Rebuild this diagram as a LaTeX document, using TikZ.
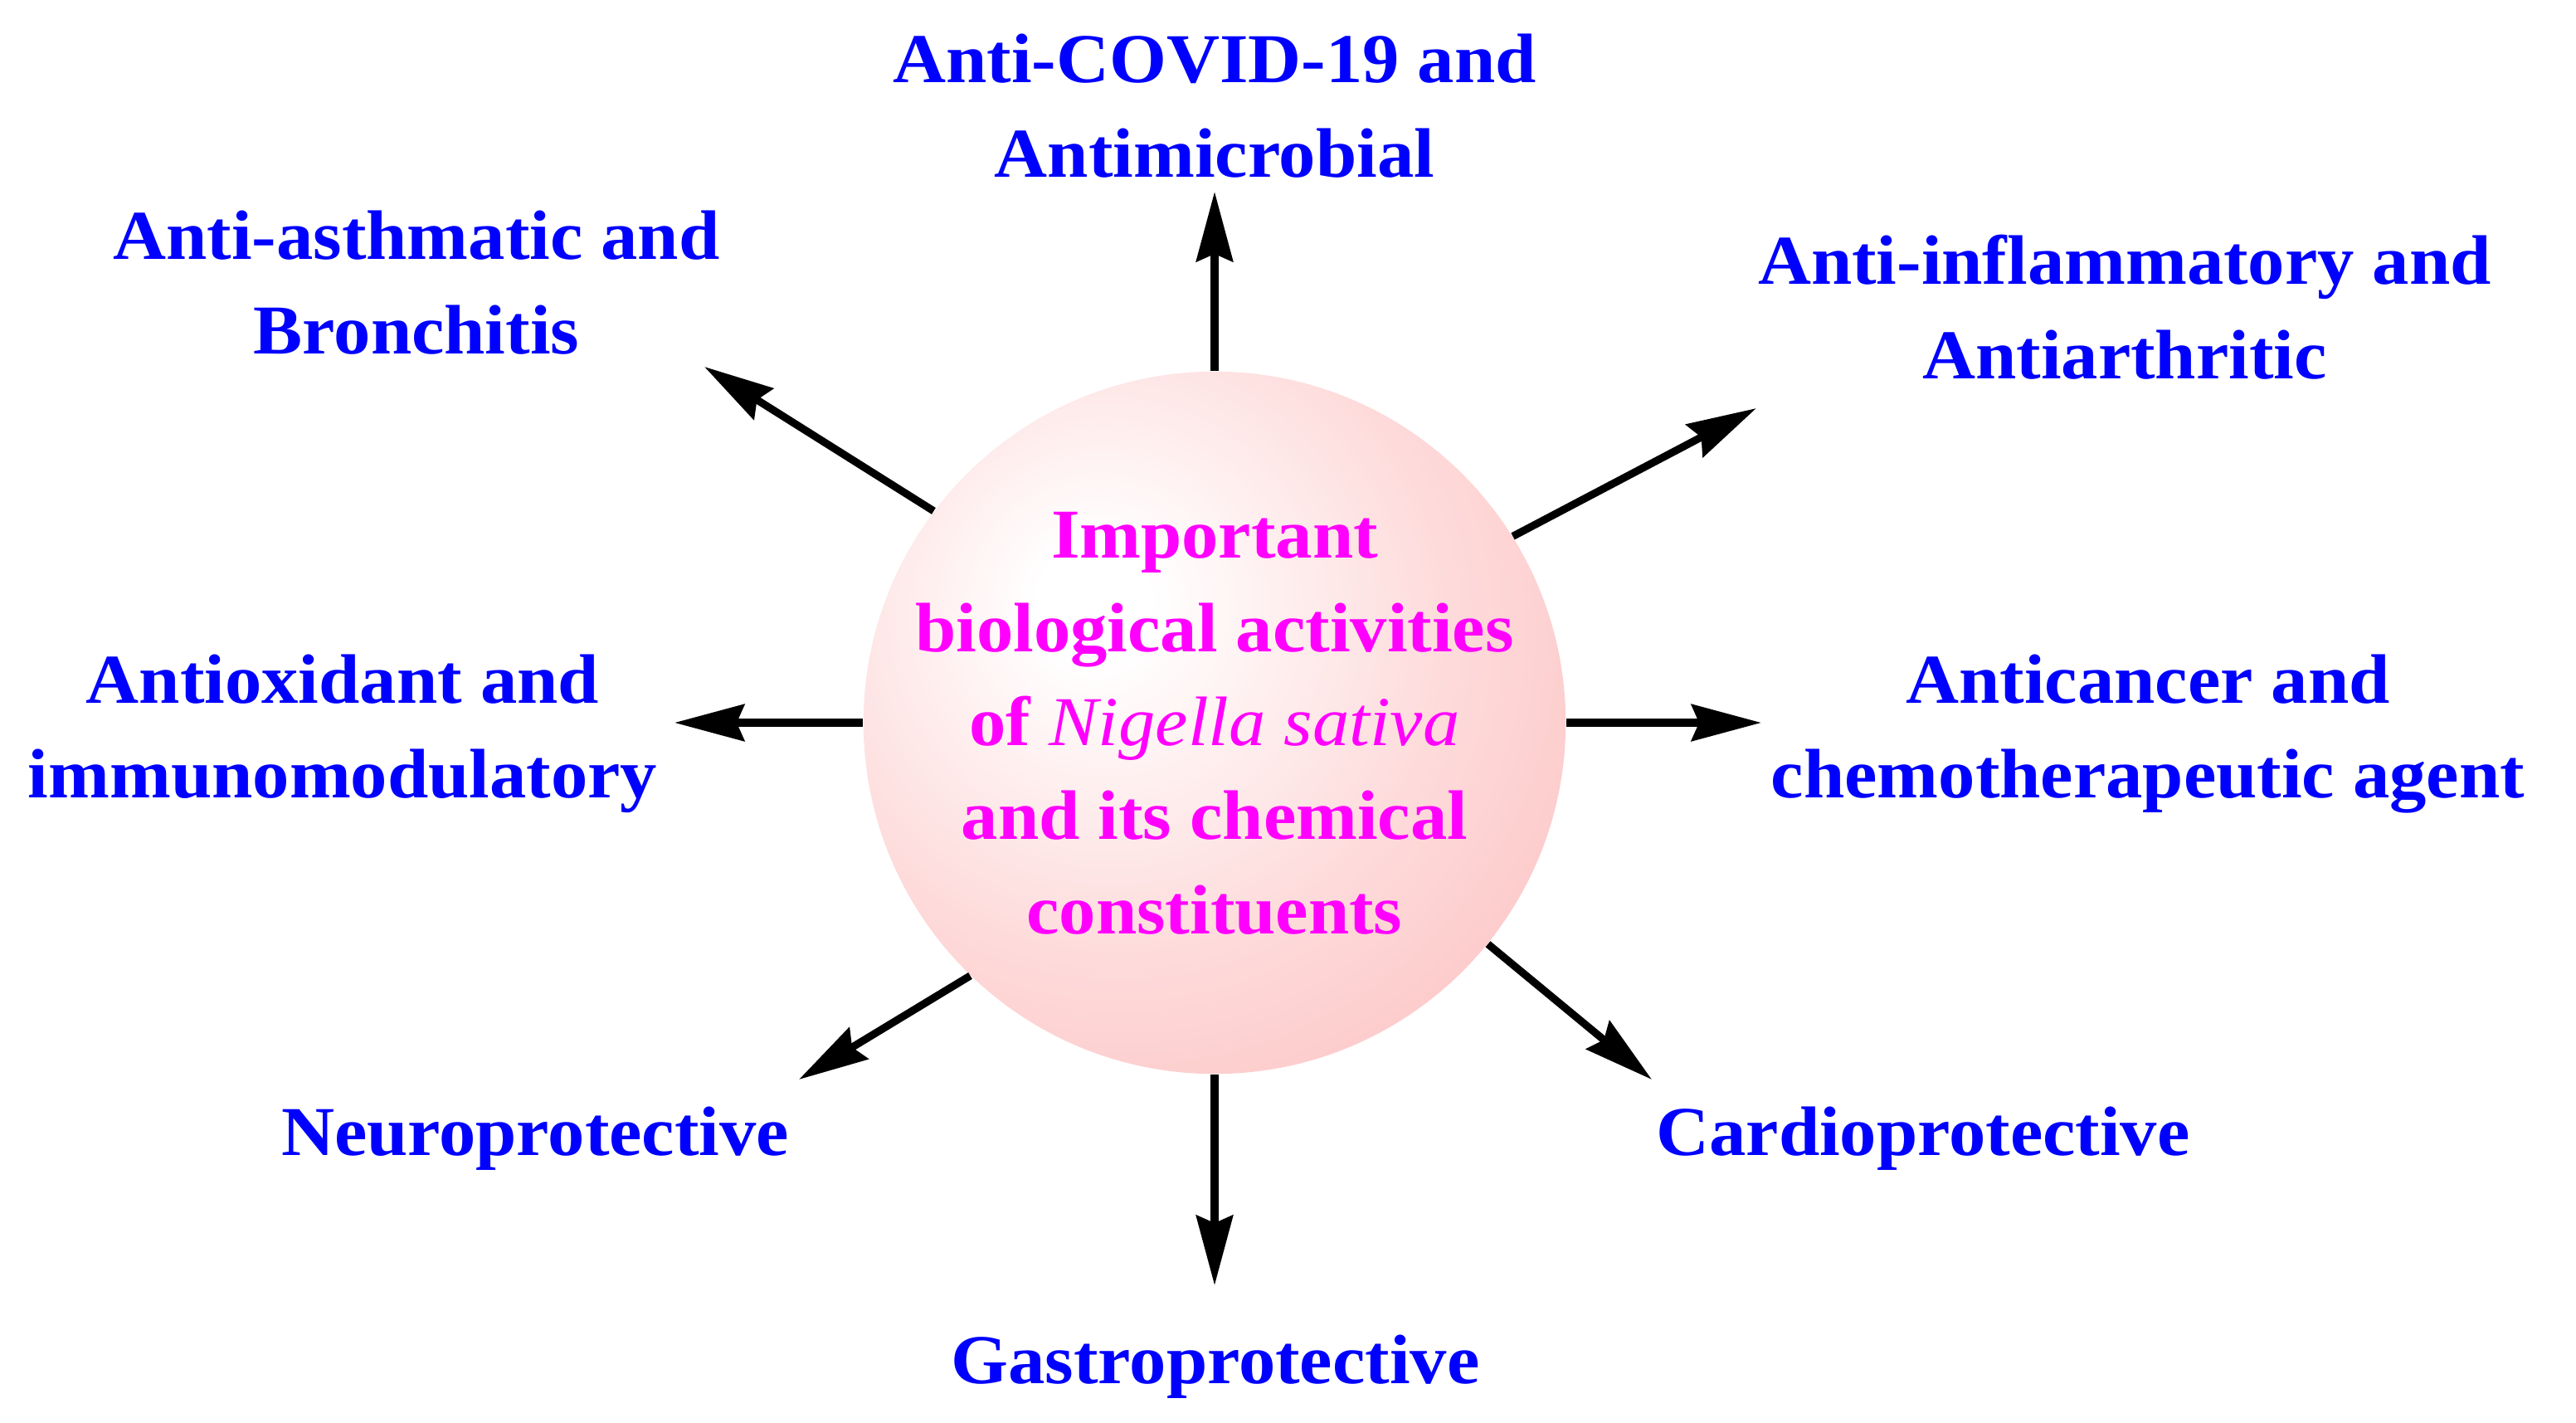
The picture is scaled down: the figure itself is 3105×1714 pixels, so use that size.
\documentclass[tikz,border=0pt]{standalone}
\usepackage{fontspec}
\setmainfont{Liberation Serif}[FakeStretch=1.05]
\usetikzlibrary{arrows.meta}
\definecolor{lblblue}{RGB}{0,0,255}
\definecolor{ctrmag}{RGB}{255,0,255}
\definecolor{balledge}{RGB}{252,189,189}
\definecolor{ballmid}{RGB}{254,218,218}
\pgfdeclareradialshading{pinkball}{\pgfpoint{-9bp}{9bp}}{color(0bp)=(white); color(4bp)=(white); color(24bp)=(ballmid); color(44bp)=(balledge); color(100bp)=(balledge)}
\begin{document}
\begin{tikzpicture}[x=0.01cm,y=-0.01cm,
  lbl/.style={font=\fontsize{24}{32.2}\selectfont\bfseries, text=lblblue, align=center, anchor=base, inner sep=0pt},
  ctrlbl/.style={font=\fontsize{24}{32.2}\selectfont\bfseries, text=ctrmag, align=center, anchor=base, inner sep=0pt},
  arr/.style={line width=2.6pt, -{Stealth[length=23.9pt,width=12.5pt,inset=2.6pt]}}]
\useasboundingbox (0,0) rectangle (3105,1714);
\node (ctr) [circle, inner sep=0pt, minimum size=8.46cm, shading=pinkball] at (1464,871) {};
% anchor=base is the baseline of the last line
\node (ctrtext) [ctrlbl] at (1464,1125) {Important\\biological activities\\of {\mdseries\itshape Nigella sativa}\\and its chemical\\constituents};
% labels
\node (covid) [lbl] at (1464,213) {Anti-COVID-19 and\\Antimicrobial};
\node (asth) [lbl] at (502,426) {Anti-asthmatic and\\Bronchitis};
\node (infl) [lbl] at (2561,456) {Anti-inflammatory and\\Antiarthritic};
\node (oxid) [lbl] at (413,961) {Antioxidant and\\immunomodulatory};
\node (canc) [lbl] at (2589,961) {Anticancer and\\chemotherapeutic agent};
\node (neuro) [lbl] at (645,1392) {Neuroprotective};
\node (cardio) [lbl] at (2318,1392) {Cardioprotective};
\node (gastro) [lbl] at (1465,1667) {Gastroprotective};
% arrow tips
\coordinate (tU) at (1464,231);
\coordinate (tUL) at (849,442);
\coordinate (tUR) at (2117,492);
\coordinate (tL) at (813,871);
\coordinate (tR) at (2123,871);
\coordinate (tLL) at (963,1301);
\coordinate (tLR) at (1991,1301);
\coordinate (tD) at (1464,1549);
\draw[arr] (ctr.90) -- (tU);
\draw[arr] (ctr.143.8) -- (tUL);
\draw[arr] (ctr.32.1) -- (tUR);
\draw[arr] (ctr.180) -- (tL);
\draw[arr] (ctr.0) -- (tR);
\draw[arr] (ctr.226.3) -- (tLL);
\draw[arr] (ctr.321.7) -- (tLR);
\draw[arr] (ctr.270) -- (tD);
\end{tikzpicture}
\end{document}
